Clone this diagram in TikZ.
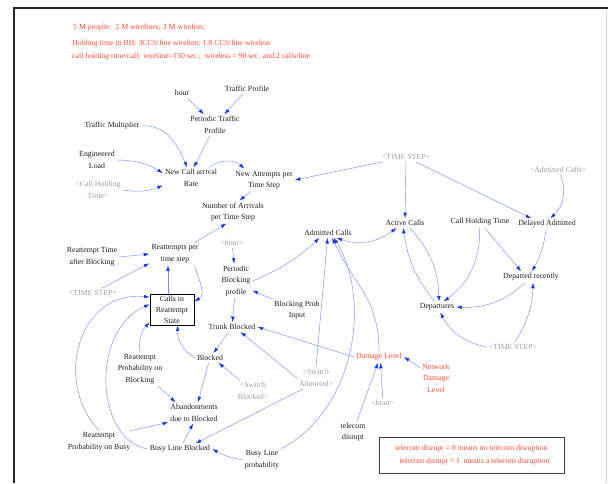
\documentclass[tikz,border=0pt]{standalone}
\usepackage{fontspec}
\setmainfont{Liberation Serif}
\usetikzlibrary{arrows.meta,calc}
\definecolor{lnk}{RGB}{120,140,255}
\definecolor{ahd}{RGB}{20,50,255}
\definecolor{redt}{RGB}{255,72,50}
\definecolor{grayt}{RGB}{158,158,158}
\begin{document}
\begin{tikzpicture}[x=1pt,y=-1pt,
  >={Latex[length=5.5pt,width=3.6pt,color=ahd]},
  v/.style={font=\fontsize{7.8}{11.5}\selectfont, align=center, inner sep=2pt, text=black!88},
  g/.style={v, text=grayt},
  r/.style={v, text=redt},
  lk/.style={draw=lnk, line width=0.45pt, ->},
  lkb/.style={draw=lnk, line width=0.45pt, <->}]
\useasboundingbox (0,0) rectangle (608,483);
% frame
\draw[line width=1.6pt, black!85] (14,483) -- (14,8) -- (608,8);
\draw[black!15, line width=0.8pt] (606.5,9.5) -- (606.5,483);
% top notes
\node[r, anchor=west, inner sep=0pt] (t1) at (73,28) {5 M people:~ 2 M wirelines; 3 M wireless;};
\node[r, anchor=west, inner sep=0pt] (t2) at (72,44) {Holding time in BH: 3CCS/line wireline; 1.8 CCS/line wireless};
\node[r, anchor=west, inner sep=0pt] (t3) at (72,57) {call holding time/call: wireline=150 sec.;~ wireless = 90 sec. and 2 calls/line};
% variables
\node[v] (hour) at (182,93) {hour};
\node[v] (tprof) at (247,89) {Traffic Profile};
\node[v] (ptp) at (215,125) {Periodic Traffic\\Profile};
\node[v] (tmult) at (112,126) {Traffic Multiplier};
\node[v] (eload) at (97,160) {Engineered\\Load};
\node[g] (chtg) at (98,190) {<Call Holding\\Time>};
\node[v] (ncar) at (191,178) {New Call arrival\\Rate};
\node[v] (nap) at (264,180) {New Attempts per\\Time Step};
\node[g] (tsA) at (406,157) {<TIME STEP>};
\node[v] (nar) at (233,212) {Number of Arrivals\\per Time Step};
\node[v] (rtab) at (92,257) {Reattempt Time\\after Blocking};
\node[v] (rpts) at (175,254) {Reattempts per\\time step};
\node[g] (hourg) at (232,243) {<hour>};
\node[v] (pbp) at (236,281) {Periodic\\Blocking\\profile};
\node[g] (tsB) at (93,293) {<TIME STEP>};
\node[draw=black, line width=0.9pt, minimum width=44pt, minimum height=31pt, inner sep=0pt,
      align=center, font=\fontsize{7.8}{11}\selectfont, text=black!88] (cirs) at (172,309.5) {Calls in\\Reattempt\\State};
\node[v] (tb) at (232,327) {Trunk Blocked};
\node[v] (bpi) at (297,310) {Blocking Prob\\Input};
\node[v] (adm) at (328,233) {Admitted Calls};
\node[v] (act) at (405,223) {Active Calls};
\node[v] (cht) at (480,222) {Call Holding Time};
\node[v] (dadm) at (547,224) {Delayed Admitted};
\node[g] (admg) at (558,170) {<Admitted Calls>};
\node[v] (drec) at (531,277) {Departed recently};
\node[v] (dep) at (437,307) {Departures};
\node[g] (tsC) at (513,347) {<TIME STEP>};
\node[v] (blk) at (210,358) {Blocked};
\node[v] (rpb) at (140,369) {Reattempt\\Probability on\\Blocking};
\node[g] (swb) at (253,391) {<Switch\\Blocked>};
\node[g] (swa) at (316,378) {<Switch\\Admitted>};
\node[v] (abd) at (194,413) {Abandonments\\due to Blocked};
\node[v] (rpbusy) at (99,442) {Reattempt\\Probability on Busy};
\node[v] (blb) at (180,449) {Busy Line Blocked};
\node[v] (blp) at (262,460) {Busy Line\\probability};
\node[r] (dl) at (379,357) {Damage Level};
\node[r] (ndl) at (436,378) {Network\\Damage\\Level};
\node[g] (hourh) at (383,403) {<hour>};
\node[v] (tdis) at (353,432) {telecom\\disrupt};
\node[draw=black!75, line width=0.9pt, minimum width=185pt, minimum height=36pt, inner sep=0pt,
      align=center, font=\fontsize{7.8}{12.5}\selectfont, text=redt] (note) at (471.5,455)
      {telecom disrupt = 0 means no telecom disruption\\\hspace*{6pt}telecom disrupt = 1~~means a telecom disruption};
% links
\draw[lk] (hour) -- (ptp);
\draw[lk] (tprof) -- (ptp);
\draw[lk] (tmult.east) to[out=5,in=112] (ncar.110);
\draw[lk] (ptp) -- (ncar.75);
\draw[lk] (eload.east) to[bend left=15] (ncar.170);
\draw[lk] (chtg.east) to[bend right=15] (ncar.195);
\draw[lk] (ncar.30) to[bend left=40] (nap.150);
\draw[lk] (tsA) -- (nap.east);
\draw[lk] (nap) -- (nar.60);
\draw[lk] (rpts.30) -- (nar.240);
\draw[lk] (rtab.east) -- (rpts.west);
\draw[lk] (tsB) -- (rpts.200);
\draw[lk] ($(cirs.north)+(-4,0)$) -- ($(rpts.south)+(-7,0)$);
\draw[lk] (rpts.330) to[out=-75,in=30] (cirs.20);
\draw[lk] (hourg) -- (pbp);
\draw[lk] (pbp.east) to[bend right=10] (adm.210);
\draw[lk] (bpi) -- (pbp.330);
\draw[lk] (pbp) -- (tb);
\draw[lkb] (adm.330) to[bend right=28] (act.210);
\draw[lk] (swa.north) -- (adm.265);
\draw[lk] (dl.north) to[out=90,in=-65,looseness=1.1] (adm.310);
\draw[lk] (blp.north east) .. controls (355,410) and (372,300) .. (adm.320);
\draw[lk] (dl.west) -- (tb.east);
\draw[lk] (swa.west) -- (tb.330);
\draw[lk] (swa.220) -- (blb.20);
\draw[lk] (tsA) -- (act);
\draw[lk] (tsA) -- (dadm.160);
\draw[lk] (admg) to[bend left=35] (dadm.60);
\draw[lk] (act.315) to[bend left=20] (dep.70);
\draw[lk] (dep.115) to[bend left=15] (act.250);
\draw[lk] (cht.265) to[bend left=28] (dep.40);
\draw[lk] (cht) -- (drec.150);
\draw[lk] (dadm) to[bend left=10] (drec.80);
\draw[lk] (drec.225) to[bend left=22] (dep.east);
\draw[lk] (tsC.west) to[bend left=25] (dep.300);
\draw[lk] (tsC.70) to[bend right=15] (drec.290);
\draw[lk] (tb) -- (blk);
\draw[lk] (swb) -- (blk.330);
\draw[lk] (blk) -- (abd.70);
\draw[lk] (rpb) -- (abd.150);
\draw[lk] (rpbusy.20) -- (abd.200);
\draw[lk] (blb) -- (abd.265);
\draw[lk] (blp.west) to[bend left=10] (blb.east);
\draw[lk] (blk.west) to[bend left=30] (cirs.290);
\draw[lk] (rpb.north) to[bend left=25] (cirs.210);
\draw[lk] (rpbusy.north) .. controls (52,380) and (80,290) .. (cirs.151);
\draw[lk] (blb.west) .. controls (95,440) and (90,330) .. (cirs.167);
\draw[lk] (ndl) -- (dl.east);
\draw[lk] (hourh) -- (dl.285);
\draw[lk] (tdis) -- (dl.260);
\end{tikzpicture}
\end{document}
